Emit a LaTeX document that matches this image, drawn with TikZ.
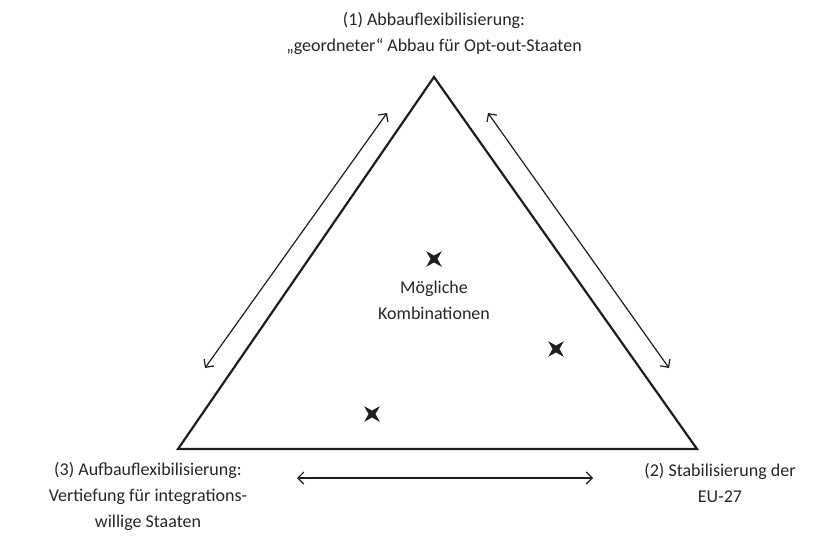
\documentclass[tikz,border=0pt]{standalone}
\usepackage{fontspec}
\setmainfont{Carlito}
\usetikzlibrary{arrows.meta,shapes.geometric}
\definecolor{ink}{HTML}{1E1E1E}
\definecolor{schrift}{HTML}{262626}
\tikzset{
  kante/.style={draw=ink, line width=2.2pt, line join=miter},
  pfeil/.style={draw=ink, line width=1.2pt, {Straight Barb[length=6pt,width=12pt]}-{Straight Barb[length=6pt,width=12pt]}},
  kreuz/.style={star, star points=4, star point ratio=3.2, fill=ink, minimum size=22pt, inner sep=0pt, rotate=45},
  lab/.style={text=schrift, font=\fontsize{18}{26}\selectfont, align=center, inner sep=0pt},
}

\begin{document}
\begin{tikzpicture}[x=1pt,y=-1pt]
  \useasboundingbox (0,0) rectangle (816,541);
  % Ecken des Dreiecks
  \coordinate (S1) at (434,77);
  \coordinate (S2) at (697,449);
  \coordinate (S3) at (178,449);
  \draw[kante] (S1) -- (S2) -- (S3) -- cycle;
  % Doppelpfeile entlang der Seiten
  \coordinate (L1) at (205,368);
  \coordinate (L2) at (387,113);
  \coordinate (R1) at (488,113);
  \coordinate (R2) at (669,368);
  \coordinate (U1) at (297,478);
  \coordinate (U2) at (593,478);
  \draw[pfeil] (L1) -- (L2);
  \draw[pfeil] (R1) -- (R2);
  \draw[pfeil] (U1) -- (U2);
  % moegliche Kombinationen
  \node[kreuz] (k1) at (434,259) {};
  \node[kreuz] (k2) at (556,349) {};
  \node[kreuz] (k3) at (372,414) {};
  \node[lab] (mitte) at (434,300) {Mögliche\\Kombinationen};
  % Beschriftung der Ecken
  \node[lab] (abbau) at (434,33) {(1) Abbauflexibilisierung:\\„geordneter“ Abbau für Opt-out-Staaten};
  \node[lab] (stabil) at (720,483) {(2) Stabilisierung der\\EU-27};
  \node[lab] (aufbau) at (148,496) {(3) Aufbauflexibilisierung:\\Vertiefung für integrations-\\willige Staaten};
\end{tikzpicture}
\end{document}
